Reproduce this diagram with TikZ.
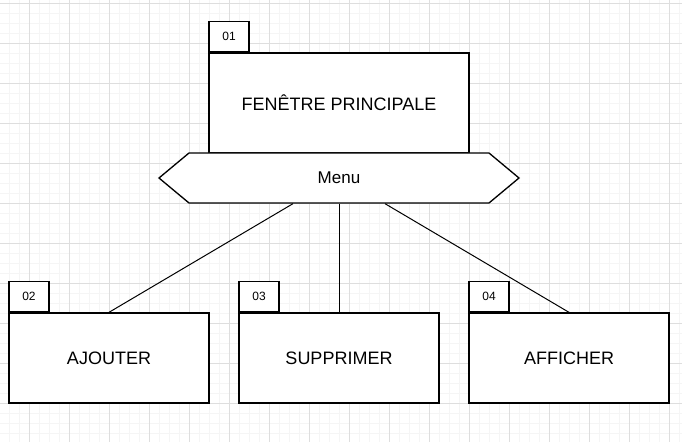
\documentclass[tikz,border=0pt]{standalone}
\usepackage{fontspec}
\setmainfont{Liberation Sans}
\usetikzlibrary{positioning,shapes.symbols}
\begin{document}
\begin{tikzpicture}[x=0.75pt, y=-0.75pt,
		pkg/.style={draw, fill=white, line width=1pt, minimum width=150pt, minimum height=67.5pt, font=\fontsize{13.5}{16}\selectfont},
		pkgtab/.style={draw, fill=white, line width=1pt, minimum width=30pt, minimum height=22.5pt, anchor=south west, font=\fontsize{9}{11}\selectfont},
		link/.style={line width=0.75pt}]
		\fill[white] (0,0) rectangle (682,442);
		\useasboundingbox (0,0) rectangle (682,442);
		\foreach \x in {9,19,...,679} \draw[black!4] (\x,0) -- (\x,442);
		\foreach \y in {3,13,...,433} \draw[black!4] (0,\y) -- (682,\y);
		\foreach \x in {29,69,...,669} \draw[black!13] (\x,0) -- (\x,442);
		\foreach \y in {3,43,...,403} \draw[black!13] (0,\y) -- (682,\y);
		\node[pkg, minimum width=195pt, minimum height=75pt] (main) at (339,103) {FENÊTRE PRINCIPALE};
		\node[pkgtab] (maintab) at (main.north west) {01};
		\node[signal, signal to=west and east, signal pointer angle=79.6, draw, fill=white, line width=1pt, minimum width=270pt, minimum height=37.5pt, inner sep=0pt, font=\fontsize{12.75}{15}\selectfont] (menu) at (339,178) {Menu};
		\node[pkg] (add) at (109,358) {AJOUTER};
		\node[pkgtab] (addtab) at (add.north west) {02};
		\node[pkg] (del) at (339,358) {SUPPRIMER};
		\node[pkgtab] (deltab) at (del.north west) {03};
		\node[pkg] (show) at (569,358) {AFFICHER};
		\node[pkgtab] (showtab) at (show.north west) {04};
		\draw[link] ([xshift=-34.5pt]menu.south) -- (add.north);
		\draw[link] (menu.south) -- (del.north);
		\draw[link] ([xshift=34.5pt]menu.south) -- (show.north);
	\end{tikzpicture}
\end{document}
